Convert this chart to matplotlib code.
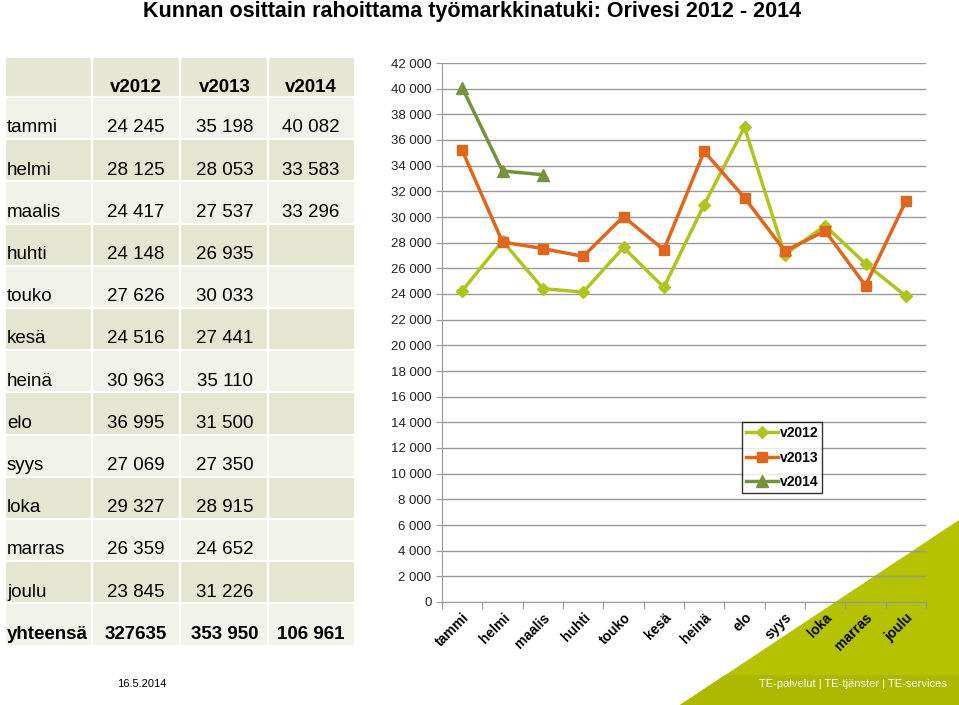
import matplotlib.pyplot as plt
import matplotlib.patches as mpatches
import numpy as np

plt.rcParams["font.family"] = ["Liberation Sans", "DejaVu Sans"]

# kuukaudet ja arvot
months = ["tammi", "helmi", "maalis", "huhti", "touko", "kesä", "heinä",
          "elo", "syys", "loka", "marras", "joulu"]
v2012 = [24245, 28125, 24417, 24148, 27626, 24516, 30963, 36995, 27069, 29327, 26359, 23845]
v2013 = [35198, 28053, 27537, 26935, 30033, 27441, 35110, 31500, 27350, 28915, 24652, 31226]
v2014 = [40082, 33583, 33296]
totals = ["327635", "353 950", "106 961"]
series_names = ["v2012", "v2013", "v2014"]


def fmt(v):
    return f"{v:,}".replace(",", " ")


W, H = 959, 705
fig = plt.figure(figsize=(W / 100, H / 100), dpi=100)


def px(x, y):
    # pikselit -> figuurin koordinaatit
    return x / W, 1 - y / H


# taustan vihreä kolmio
tri = mpatches.Polygon([px(959, 520), px(959, 705), px(680, 705)],
                       closed=True, transform=fig.transFigure,
                       facecolor="#b4c200", edgecolor="none", zorder=-2)
fig.patches.append(tri)
band = mpatches.Polygon([px(959, 675), px(959, 705), px(680, 705), px(725, 675)],
                        closed=True, transform=fig.transFigure,
                        facecolor="#acb800", edgecolor="none", zorder=-1)
fig.patches.append(band)

# otsikko
fig.text(*px(472, 11), "Kunnan osittain rahoittama työmarkkinatuki: Orivesi 2012 - 2014",
         ha="center", va="center", fontsize=15.5, fontweight="bold")

# taulukko
col_edges = [5, 92, 180, 268, 355]
col_centers = [7, 136, 225, 311]
row_top = 57
header_h = 40
row_h = 42.2
dark = "#e4e6d2"
light = "#f1f2e8"

rows = [[m, fmt(a), fmt(b), fmt(c) if c is not None else ""]
        for m, a, b, c in zip(months, v2012, v2013, v2014 + [None] * (12 - len(v2014)))]
rows.append(["yhteensä"] + totals)

# otsikkorivi
for ci in range(4):
    x0, x1 = col_edges[ci], col_edges[ci + 1]
    r = mpatches.Rectangle(px(x0, row_top + header_h), (x1 - x0) / W, header_h / H,
                           transform=fig.transFigure, facecolor="#e5e6d4",
                           edgecolor="white", linewidth=1.5)
    fig.patches.append(r)
for ci, name in enumerate(series_names):
    fig.text(*px(col_centers[ci + 1], 87), name, ha="center", va="center",
             fontsize=13.5, fontweight="bold")

for ri, row in enumerate(rows):
    y0 = row_top + header_h + ri * row_h
    color = light if ri % 2 == 0 else dark
    bold = ri == len(rows) - 1
    for ci in range(4):
        x0, x1 = col_edges[ci], col_edges[ci + 1]
        r = mpatches.Rectangle(px(x0, y0 + row_h), (x1 - x0) / W, row_h / H,
                               transform=fig.transFigure, facecolor=color,
                               edgecolor="white", linewidth=1.5)
        fig.patches.append(r)
    ty = y0 + row_h * 0.73
    fig.text(*px(col_centers[0], ty), row[0], ha="left", va="center", fontsize=13.5,
             fontweight="bold" if bold else "normal")
    for ci in range(1, 4):
        fig.text(*px(col_centers[ci], ty), row[ci], ha="center", va="center", fontsize=13.5,
                 fontweight="bold" if bold else "normal")

# kaavio
ax = fig.add_axes([442 / W, 1 - 602 / H, 484 / W, (602 - 63) / H])
ax.set_facecolor("none")
x = np.arange(len(months))
ax.plot(x, v2012, color="#b0c41f", lw=2.5, marker="D", ms=6, label="v2012")
ax.plot(x[:len(v2013)], v2013, color="#e0661c", lw=2.5, marker="s", ms=7, label="v2013")
ax.plot(x[:len(v2014)], v2014, color="#76923c", lw=2.5, marker="^", ms=8, label="v2014")

ax.set_ylim(0, 42000)
ax.set_yticks(np.arange(0, 42001, 2000))
ax.set_yticklabels([fmt(v) for v in range(0, 42001, 2000)], fontsize=9.5, color="#222222")
ax.yaxis.grid(True, color="#999999", lw=1)
ax.set_axisbelow(True)

ax.set_xlim(-0.5, len(months) - 0.5)
ax.set_xticks(np.arange(-0.5, len(months), 1))
ax.set_xticklabels([])
ax.set_xticks(x, minor=True)
ax.set_xticklabels(months, minor=True, rotation=45, ha="right", rotation_mode="anchor",
                   fontsize=10, fontweight="bold")
ax.tick_params(axis="x", which="major", length=5, color="#999999")
ax.tick_params(axis="x", which="minor", length=0, pad=6)
ax.tick_params(axis="y", length=4, color="#999999")
for s in ["top", "right"]:
    ax.spines[s].set_visible(False)
for s in ["left", "bottom"]:
    ax.spines[s].set_color("#999999")

leg = ax.legend(loc="upper left", bbox_to_anchor=((742 - 442) / 484, 1 - (422 - 63) / (602 - 63)),
                frameon=True, fancybox=False, edgecolor="black",
                prop={"weight": "bold", "size": 10}, handlelength=2.3, borderpad=0.3,
                labelspacing=0.75, handletextpad=0.1, borderaxespad=0)
leg.get_frame().set_linewidth(1)

# alatunniste
fig.text(*px(142, 684), "16.5.2014", ha="center", va="center", fontsize=8)
fig.text(*px(947, 684), "TE-palvelut | TE-tjänster | TE-services", ha="right", va="center",
         fontsize=8, color="white")

fig.savefig("out.png", dpi=100)
